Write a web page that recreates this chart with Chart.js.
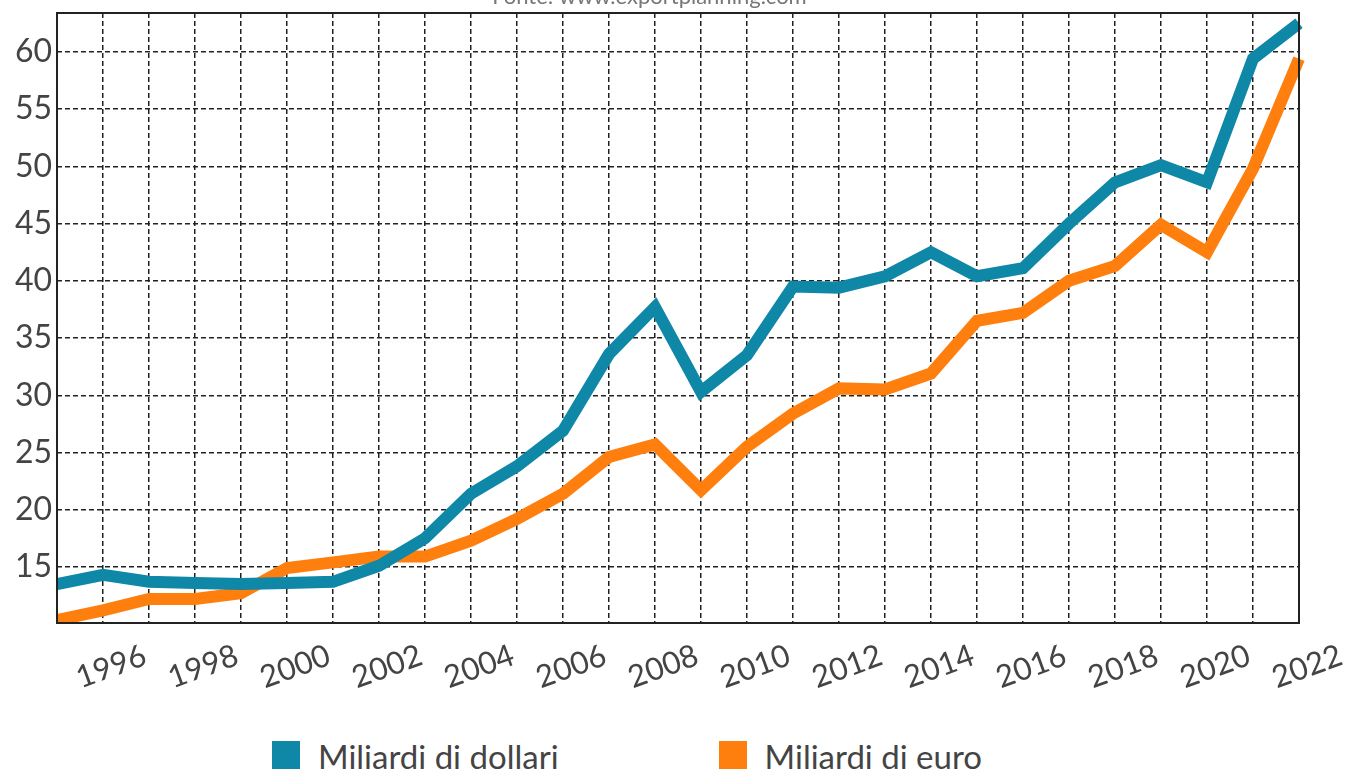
<!DOCTYPE html>
<html>
<head>
<meta charset="utf-8">
<script src="https://cdn.jsdelivr.net/npm/chart.js@4.4.1/dist/chart.umd.min.js"></script>
<style>
  body { margin: 0; background: #fff; overflow: hidden; width: 1347px; height: 769px; position: relative; font-family: Lato, sans-serif; }
  #wrap { position: absolute; left: 0; top: -16px; width: 1347px; height: 736px; }
  #legend { position: absolute; left: 272px; top: 736px; display: flex; align-items: center; font-size: 33px; color: #444; }
  #legend .item { display: flex; align-items: center; }
  #legend .box { width: 28px; height: 30px; margin-right: 18px; }
</style>
</head>
<body>
<div id="wrap"><canvas id="chart"></canvas></div>
<div id="legend"></div>
<script>
document.addEventListener("DOMContentLoaded", function () {

  // anni 1995 - 2022
  const years = ['1995','1996','1997','1998','1999','2000','2001','2002','2003','2004','2005','2006','2007','2008',
                 '2009','2010','2011','2012','2013','2014','2015','2016','2017','2018','2019','2020','2021','2022'];

  const dollari = [13.5, 14.3, 13.7, 13.6, 13.5, 13.6, 13.7, 15.1, 17.5, 21.4, 23.8, 26.9, 33.6, 37.7,
                   30.3, 33.5, 39.5, 39.4, 40.4, 42.5, 40.4, 41.1, 45.0, 48.6, 50.1, 48.6, 59.4, 62.5];

  const euro = [10.35, 11.2, 12.2, 12.2, 12.7, 14.9, 15.4, 15.9, 15.9, 17.3, 19.2, 21.4, 24.6, 25.7,
                21.7, 25.5, 28.4, 30.6, 30.5, 31.9, 36.5, 37.2, 40.0, 41.3, 44.9, 42.5, 49.8, 59.4];

  const yTicks = [15, 20, 25, 30, 35, 40, 45, 50, 55, 60];

  const seriesNames = ['Miliardi di dollari', 'Miliardi di euro'];
  const colors = ['#0f87a6', '#ff7f0e'];

  // cornice nera attorno all'area del grafico
  const frame = {
    id: 'frame',
    afterDraw(chart) {
      const a = chart.chartArea;
      const ctx = chart.ctx;
      ctx.save();
      ctx.strokeStyle = '#222';
      ctx.lineWidth = 2;
      ctx.strokeRect(a.left, a.top, a.right - a.left, a.bottom - a.top);
      ctx.restore();
    }
  };

  const ctx = document.getElementById('chart');
  const chart = new Chart(ctx, {
    type: 'line',
    data: {
      labels: years,
      datasets: [{
        label: seriesNames[0],
        data: dollari,
        borderColor: colors[0],
        backgroundColor: colors[0],
        borderWidth: 12,
        pointRadius: 0,
        tension: 0,
        fill: false
      }, {
        label: seriesNames[1],
        data: euro,
        borderColor: colors[1],
        backgroundColor: colors[1],
        borderWidth: 12,
        pointRadius: 0,
        tension: 0,
        fill: false
      }]
    },
    options: {
      responsive: true,
      maintainAspectRatio: false,
      animation: false,
      layout: { padding: { left: 0, right: 48, top: 0, bottom: 0 } },
      plugins: {
        legend: { display: false },
        tooltip: { enabled: false },
        title: {
          display: true,
          text: 'Fonte: www.exportplanning.com',
          color: '#777',
          font: { family: 'Lato', size: 22, weight: 'normal' },
          padding: { top: 0, bottom: 2.6 }
        }
      },
      scales: {
        x: {
          type: 'category',
          offset: false,
          afterFit(scale) { scale.height = 97; },
          grid: { color: '#222', lineWidth: 1.5, drawTicks: false },
          border: { display: false, dash: [5, 3] },
          ticks: {
            autoSkip: false,
            minRotation: 20,
            maxRotation: 20,
            labelOffset: 42,
            padding: 14,
            color: '#444',
            font: { family: 'Lato', size: 31 },
            callback: function (value, index) {
              const y = parseInt(years[index]);
              return y % 2 === 0 ? years[index] : '';
            }
          }
        },
        y: {
          min: 10.1,
          max: 63.4,
          afterFit(scale) { scale.width = 57; },
          afterBuildTicks(scale) { scale.ticks = yTicks.map(v => ({ value: v })); },
          grid: { color: '#222', lineWidth: 1.5, drawTicks: false },
          border: { display: false, dash: [5, 3] },
          ticks: {
            padding: 5,
            color: '#444',
            font: { family: 'Lato', size: 32 }
          }
        }
      }
    },
    plugins: [frame]
  });

  // legenda
  const legend = document.getElementById('legend');
  seriesNames.forEach((name, i) => {
    const item = document.createElement('div');
    item.className = 'item';
    if (i > 0) item.style.marginLeft = '160px';
    item.innerHTML = '<span class="box" style="background:' + colors[i] + '"></span><span>' + name + '</span>';
    legend.appendChild(item);
  });

});
</script>
</body>
</html>
